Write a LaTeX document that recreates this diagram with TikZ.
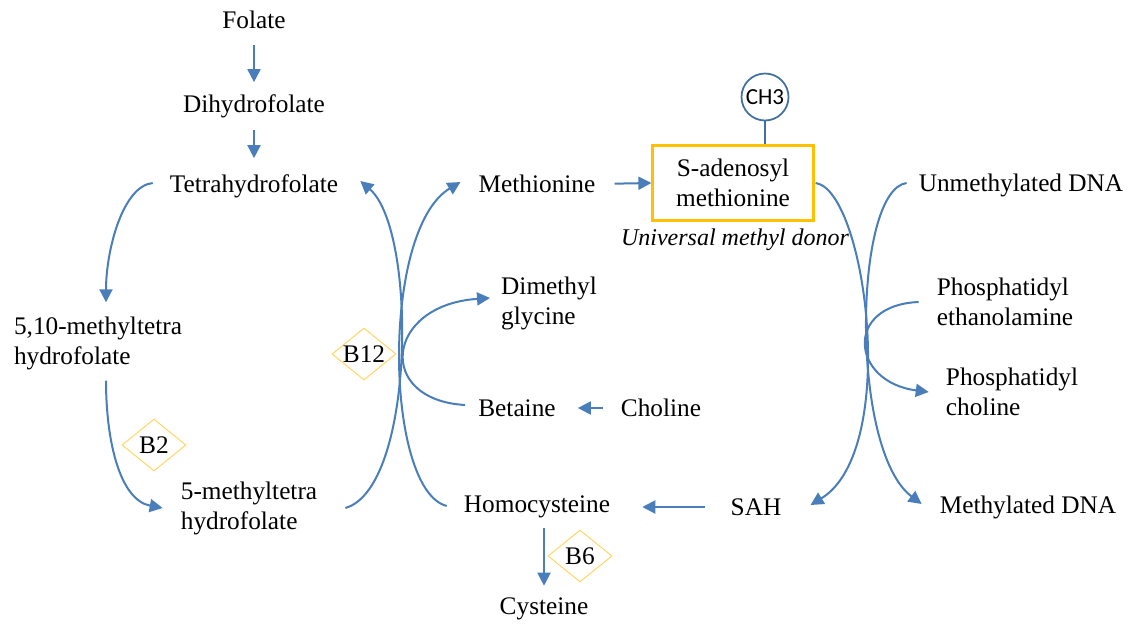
\documentclass[tikz,border=0pt]{standalone}
\usepackage{fontspec}
\setmainfont{Liberation Serif}
\newfontfamily\methylfont{Carlito}
\usetikzlibrary{shapes.geometric,arrows.meta}
\definecolor{c1}{RGB}{74,126,187}
\definecolor{c2}{RGB}{255,192,0}
\definecolor{c3}{RGB}{255,214,102}
\definecolor{c4}{RGB}{65,113,156}
\tikzstyle{pathway}=[
    x=1pt, y=-1pt,
    compound/.style={inner sep=0pt, align=left, font={\fontsize{25.3}{30}\selectfont}},
    donor box/.style={rectangle, draw=c2, line width=2.25pt, minimum width=161pt, minimum height=75pt, inner sep=0pt, align=center, font={\fontsize{25.3}{30}\selectfont}},
    donor label/.style={inner sep=0pt, font={\fontsize{24}{28}\selectfont\itshape}},
    methyl/.style={circle, draw=c4, line width=1.75pt, minimum size=47pt, inner sep=0pt, font={\methylfont\fontsize{23}{26}\selectfont}},
    cofactor box/.style={diamond, draw=c3, line width=1pt, shape aspect=1.3, minimum width=64pt, minimum height=52pt, inner sep=0pt, font={\fontsize{25.3}{30}\selectfont}},
    flow/.style={draw=c1, line width=2pt, -{Triangle[length=13pt,width=13pt]}},
    tether/.style={draw=c4, line width=1.75pt}
]
\newcommand{\cofactor}[3]{
    \node[cofactor box] (#1) at (#2) {#3};
}

\begin{document}
\begin{tikzpicture}
[
    pathway
]
    \useasboundingbox (0,0) rectangle (1131,624);
    \node[compound] (fol) at (254,20) {Folate};
    \node[compound] (dhf) at (254,106) {Dihydrofolate};
    \node[compound] (thf) at (254,186) {Tetrahydrofolate};
    \node[compound] (mthf) at (98,343) {5,10-methyltetra\\hydrofolate};
    \node[compound] (methf) at (249,508) {5-methyltetra\\hydrofolate};
    \node[compound] (met) at (537,184) {Methionine};
    \node[donor box] (sam) at (733,183) {S-adenosyl\\methionine};
    \node[methyl] (ch3) at (765,97) {CH3};
    \node[donor label] (univ) at (735,240) {Universal methyl donor};
    \node[compound] (udna) at (1021,185) {Unmethylated DNA};
    \node[compound] (dgly) at (549,303) {Dimethyl\\glycine};
    \node[compound] (pe) at (1005,302) {Phosphatidyl\\ethanolamine};
    \node[compound] (pc) at (1012,392) {Phosphatidyl\\choline};
    \node[compound] (bet) at (517,408) {Betaine};
    \node[compound] (cho) at (661,408) {Choline};
    \node[compound] (hcy) at (537,507) {Homocysteine};
    \node[compound] (sah) at (756,507) {SAH};
    \node[compound] (mdna) at (1028,507) {Methylated DNA};
    \node[compound] (cys) at (544,609) {Cysteine};
    \cofactor{b12}{364,354}{B12}
    \cofactor{b2}{154,445}{B2}
    \cofactor{b6}{580,556}{B6}

    \draw[tether] (ch3) -- (ch3 |- sam.north);
    \foreach \a/\b/\s/\e in {fol.south/dhf.north/16pt/12pt, dhf.south/thf.north/12pt/16pt,
        met.east/sam.west/19pt/0pt, cho.west/bet.east/18pt/22pt, sah.west/hcy.east/26pt/32pt,
        hcy.south -| cys.north/cys.north/10pt/12pt}
        \draw[flow, shorten <=\s, shorten >=\e] (\a) -- (\b);

    \draw[flow] ([shift={(-17,-3)}]thf.west) .. controls +(-30,3) and +(0,-52) .. ([shift={(8,-14)}]mthf.north);
    \draw[flow] ([shift={(8,11)}]mthf.south) .. controls +(0,60) and +(-43,-8) .. ([shift={(-18,0)}]methf.west);
    \draw[flow] ([shift={(28,0)}]methf.east) .. controls +(70,-20) and +(57,49) .. ([shift={(22,-5)}]thf.east);
    \draw[flow] ([shift={(-17,-1)}]hcy.west) .. controls +(-62,-16) and +(-80,48) .. ([shift={(-18,-2)}]met.west);
    \draw[flow] ([shift={(-13,-3)}]bet.west) .. controls +(-90,-5) and +(-105,7) .. ([shift={(-11,-5)}]dgly.west);
    \draw[flow] ([shift={(1,0)}]sam.east) .. controls +(50,7) and +(90,-55) .. ([shift={(29,-2)}]sah.east);
    \draw[flow] ([shift={(-12,-2)}]udna.west) .. controls +(-53,7) and +(-72,-54) .. ([shift={(-18,-3)}]mdna.west);
    \draw[flow] ([shift={(-18,0)}]pe.west) .. controls +(-75,3) and +(-78,-10) .. ([shift={(-17,0)}]pc.west);
\end{tikzpicture}
\end{document}
